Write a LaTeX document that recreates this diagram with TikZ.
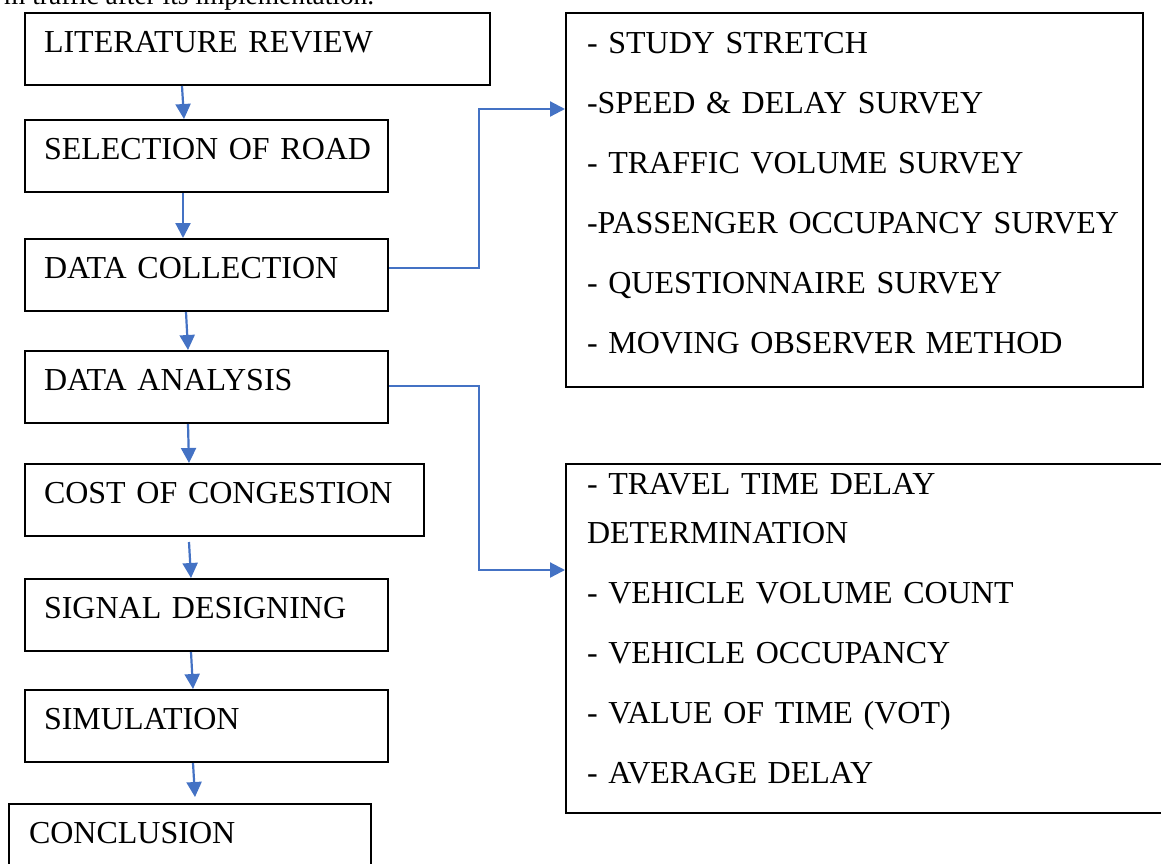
\documentclass[tikz,border=0pt]{standalone}
\usepackage{fontspec}
\setmainfont{Liberation Serif}
\usetikzlibrary{arrows.meta}
\definecolor{conblue}{HTML}{4472C4}
\begin{document}
\begin{tikzpicture}[x=1pt,y=-1pt,
  every node/.style={font=\fontsize{32}{60}\selectfont},
  stepbox/.style={draw, line width=2pt, anchor=north west, inner xsep=19pt, inner ysep=0pt, text height=39pt, text depth=33pt, align=left},
  listbox/.style={draw, line width=2pt, anchor=north west, inner xsep=21pt, inner ysep=0pt, align=left},
  conn/.style={draw=conblue, line width=2.2pt, -{Triangle[length=15pt,width=15pt]}}
]
\useasboundingbox (0,0) rectangle (1161,863);
\clip (0,0) rectangle (1161,863);
\node[anchor=base west, font=\fontsize{27.4}{30}\selectfont, inner sep=0pt] (cut) at (4,4) {m traffic after its implementation.};
% left column
\node[stepbox, text width=427pt] (lit)  at (24,12)  {\mbox{LITERATURE REVIEW}};
\node[stepbox, text width=325pt] (sel)  at (24,119) {\mbox{SELECTION OF ROAD}};
\node[stepbox, text width=325pt] (dc)   at (24,238) {\mbox{DATA COLLECTION}};
\node[stepbox, text width=325pt] (da)   at (24,350) {\mbox{DATA ANALYSIS}};
\node[stepbox, text width=361pt] (cost) at (24,463) {\mbox{COST OF CONGESTION}};
\node[stepbox, text width=325pt] (sig)  at (24,578) {\mbox{SIGNAL DESIGNING}};
\node[stepbox, text width=325pt] (sim)  at (24,689) {\mbox{SIMULATION}};
\node[stepbox, text width=322pt, inner xsep=20pt] (conc) at (8,803) {\mbox{CONCLUSION}};
% right column
\node[listbox, text width=535pt, text height=40pt, text depth=334pt] (r1) at (565,12)
  {\mbox{- STUDY STRETCH}\\\mbox{-SPEED \& DELAY SURVEY}\\\mbox{- TRAFFIC VOLUME SURVEY}\\\mbox{-PASSENGER OCCUPANCY SURVEY}\\\mbox{- QUESTIONNAIRE SURVEY}\\\mbox{- MOVING OBSERVER METHOD}};
\node[listbox, text width=620pt, text height=30pt, text depth=319pt] (r2) at (565,463)
  {- TRAVEL TIME DELAY\\[-11pt]DETERMINATION\\- VEHICLE VOLUME COUNT\\- VEHICLE OCCUPANCY\\- VALUE OF TIME (VOT)\\- AVERAGE DELAY};
% connectors
\draw[conn] ([xshift=158pt]lit.south west) -- ([xshift=160pt]sel.north west);
\draw[conn] ([xshift=159pt]sel.south west) -- ([xshift=159pt]dc.north west);
\draw[conn] ([xshift=162pt]dc.south west) -- ([xshift=164pt]da.north west);
\draw[conn] ([xshift=164pt]da.south west) -- ([xshift=165pt]cost.north west);
\draw[conn] ([xshift=165pt,yshift=-5pt]cost.south west) -- ([xshift=167pt]sig.north west);
\draw[conn] ([xshift=167pt]sig.south west) -- ([xshift=169pt]sim.north west);
\draw[conn] ([xshift=169pt]sim.south west) -- ([xshift=187pt,yshift=6pt]conc.north west);
\draw[conn] ([yshift=-30pt]dc.north east) -- ++(90,0) |- ([yshift=-97pt]r1.north west);
\draw[conn] ([yshift=-36pt]da.north east) -- ++(90,0) |- ([yshift=-107pt]r2.north west);
\end{tikzpicture}
\end{document}
